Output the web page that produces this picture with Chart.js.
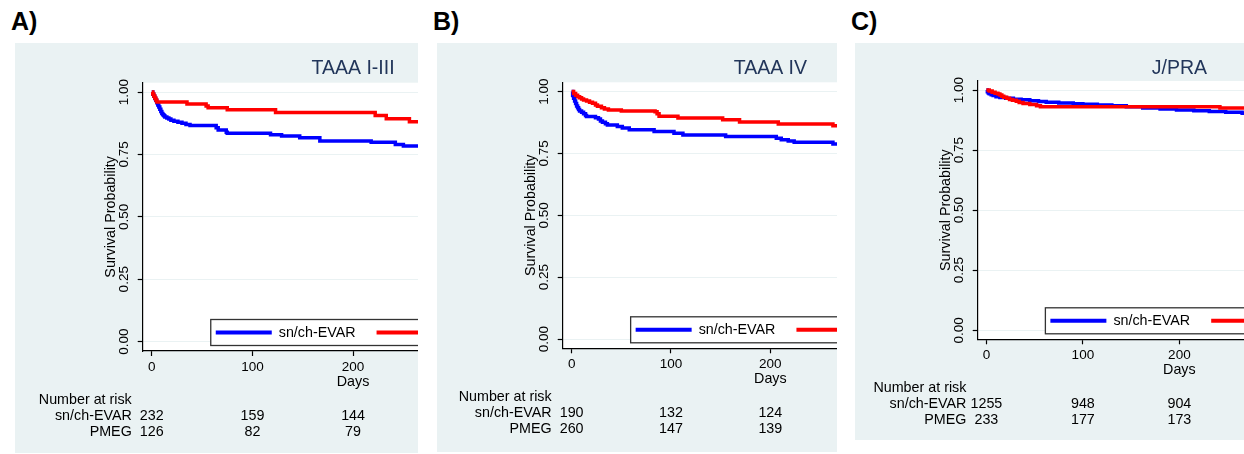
<!DOCTYPE html>
<html>
<head>
<meta charset="utf-8">
<script src="https://cdn.jsdelivr.net/npm/chart.js@4.4.1/dist/chart.umd.min.js"></script>
<style>
  body { margin: 0; background: #fff; width: 1244px; height: 454px; position: relative; overflow: hidden; }
  .tag { position: absolute; top: 9px; font: bold 25px "Liberation Sans", Arial, sans-serif; line-height: 25px; color: #000; }
  .panel { position: absolute; background: #eaf2f3; overflow: hidden; }
  .panel canvas { position: absolute; left: 0; top: 0; }
</style>
</head>
<body>
<div class="tag" style="left:11px">A)</div>
<div class="tag" style="left:433px">B)</div>
<div class="tag" style="left:851px">C)</div>
<div class="panel" style="left:15px;top:43px;width:403px;height:410px"><canvas id="cA"></canvas></div>
<div class="panel" style="left:437px;top:43px;width:400px;height:409px"><canvas id="cB"></canvas></div>
<div class="panel" style="left:855px;top:43px;width:389px;height:397px"><canvas id="cC"></canvas></div>
<script>
// shared labels / ticks
const groupLabels = ['sn/ch-EVAR', 'PMEG'];
const riskDays = [0, 100, 200];
const xTicks = [0, 100, 200, 300];
const yTicks = [0, 0.25, 0.5, 0.75, 1];

// A) TAAA I-III
const titleA = 'TAAA I-III';
const evarDaysA = [0, 1, 2, 3, 4, 5, 6, 7, 8, 9, 10, 11, 12, 13, 15, 17, 19, 22, 26, 30, 34, 38, 64, 66, 74, 75, 118, 129, 147, 167, 218, 242, 250, 280];
const evarSurvA = [1, 0.991, 0.983, 0.974, 0.966, 0.957, 0.948, 0.940, 0.931, 0.922, 0.914, 0.909, 0.905, 0.900, 0.896, 0.892, 0.887, 0.883, 0.879, 0.875, 0.870, 0.866, 0.857, 0.848, 0.839, 0.835, 0.829, 0.824, 0.817, 0.804, 0.799, 0.790, 0.784, 0.784];
const pmegDaysA = [0, 1, 2, 3, 4, 5, 35, 54, 56, 75, 123, 222, 233, 256, 280];
const pmegSurvA = [1, 0.992, 0.984, 0.976, 0.968, 0.960, 0.952, 0.944, 0.937, 0.929, 0.918, 0.906, 0.893, 0.881, 0.881];
const riskEvarA = [232, 159, 144];
const riskPmegA = [126, 82, 79];

// B) TAAA IV
const titleB = 'TAAA IV';
const evarDaysB = [0, 1, 2, 3, 4, 5, 6, 7, 8, 10, 12, 14, 15, 24, 27, 29, 31, 34, 36, 46, 51, 58, 83, 103, 112, 155, 206, 211, 218, 224, 263, 280];
const evarSurvB = [1, 0.984, 0.973, 0.962, 0.952, 0.942, 0.935, 0.928, 0.922, 0.916, 0.910, 0.903, 0.899, 0.894, 0.889, 0.881, 0.876, 0.870, 0.865, 0.859, 0.853, 0.846, 0.839, 0.832, 0.825, 0.818, 0.811, 0.805, 0.800, 0.795, 0.788, 0.788];
const pmegDaysB = [0, 2, 4, 6, 8, 10, 12, 15, 18, 21, 24, 26, 30, 33, 37, 50, 84, 86, 88, 107, 152, 169, 208, 263, 280];
const pmegSurvB = [1, 0.992, 0.985, 0.979, 0.975, 0.970, 0.966, 0.962, 0.957, 0.953, 0.946, 0.941, 0.935, 0.930, 0.926, 0.922, 0.918, 0.910, 0.900, 0.893, 0.886, 0.877, 0.869, 0.862, 0.862];
const riskEvarB = [190, 132, 124];
const riskPmegB = [260, 147, 139];

// C) J/PRA
const titleC = 'J/PRA';
const evarDaysC = [0, 1, 2, 3, 5, 7, 10, 14, 20, 28, 36, 45, 54, 62, 75, 90, 100, 115, 130, 145, 162, 180, 197, 215, 231, 248, 265, 280];
const evarSurvC = [1, 0.993, 0.988, 0.984, 0.980, 0.977, 0.972, 0.969, 0.966, 0.962, 0.959, 0.955, 0.952, 0.949, 0.946, 0.943, 0.941, 0.938, 0.934, 0.930, 0.925, 0.921, 0.917, 0.914, 0.911, 0.907, 0.903, 0.902];
const pmegDaysC = [0, 3, 6, 9, 12, 14, 16, 18, 21, 24, 27, 31, 34, 38, 45, 52, 56, 242, 280];
const pmegSurvC = [1, 0.996, 0.991, 0.987, 0.983, 0.979, 0.974, 0.970, 0.966, 0.961, 0.957, 0.953, 0.948, 0.944, 0.940, 0.935, 0.930, 0.925, 0.925];
const riskEvarC = [1255, 948, 904];
const riskPmegC = [233, 177, 173];

Chart.defaults.font.family = '"Liberation Sans", Arial, sans-serif';
Chart.defaults.color = '#000';

const km = (days, surv) => days.map((d, i) => ({ x: d, y: surv[i] }));

// plot area fill, legend box and number-at-risk table
const kmExtras = {
  id: 'kmExtras',
  beforeDraw(chart) {
    const { ctx, chartArea: a } = chart;
    ctx.save();
    ctx.fillStyle = '#fff';
    ctx.fillRect(a.left, a.top, a.right - a.left, a.bottom - a.top);
    ctx.restore();
  },
  afterDraw(chart, args, o) {
    const { ctx, chartArea: a, scales: { x } } = chart;
    const x0 = x.getPixelForValue(0);
    const ds = chart.data.datasets;
    ctx.save();
    ctx.font = '14.3px "Liberation Sans", Arial, sans-serif';
    ctx.textBaseline = 'middle';

    // legend
    const bh = 26, by = a.bottom - 5.5 - bh, bx = x0 + 59;
    let bw = 10;
    ds.forEach(d => { bw += 63 + ctx.measureText(d.label).width + 21; });
    ctx.fillStyle = '#fff';
    ctx.fillRect(bx, by, bw, bh);
    ctx.strokeStyle = '#333';
    ctx.lineWidth = 1.3;
    ctx.strokeRect(bx, by, bw, bh);
    let cx = bx + 5;
    const cy = by + bh / 2;
    ds.forEach(d => {
      ctx.strokeStyle = d.borderColor;
      ctx.lineWidth = 4;
      ctx.beginPath(); ctx.moveTo(cx, cy); ctx.lineTo(cx + 56, cy); ctx.stroke();
      ctx.fillStyle = '#000';
      ctx.textAlign = 'left';
      ctx.fillText(d.label, cx + 63, cy + 0.5);
      cx += 63 + ctx.measureText(d.label).width + 21;
    });

    // number at risk
    const lx = x0 - 20;
    ctx.fillStyle = '#000';
    ctx.textAlign = 'right';
    ctx.fillText('Number at risk', lx, a.bottom + 49);
    o.risk.forEach((counts, i) => {
      const yy = a.bottom + 65 + 16 * i;
      ctx.textAlign = 'right';
      ctx.fillText(ds[i].label, lx, yy);
      ctx.textAlign = 'center';
      counts.forEach((n, j) => ctx.fillText(String(n), x.getPixelForValue(riskDays[j]), yy));
    });
    ctx.restore();
  }
};

const panels = [
  { id: 'cA', title: titleA, evar: km(evarDaysA, evarSurvA), pmeg: km(pmegDaysA, pmegSurvA), risk: [riskEvarA, riskPmegA], h: 410, left: 127.7, top: 39.7, bottom: 308, ppd: 1.0065, tc: 26 },
  { id: 'cB', title: titleB, evar: km(evarDaysB, evarSurvB), pmeg: km(pmegDaysB, pmegSurvB), risk: [riskEvarB, riskPmegB], h: 409, left: 125.7, top: 39.3, bottom: 305.3, ppd: 0.9935, tc: 26 },
  { id: 'cC', title: titleC, evar: km(evarDaysC, evarSurvC), pmeg: km(pmegDaysC, pmegSurvC), risk: [riskEvarC, riskPmegC], h: 397, left: 122.7, top: 38, bottom: 296.3, ppd: 0.965, tc: 25.3 }
];

const xMin = -9, xMax = 409, yMin = -0.0375, yMax = 1.0375;
const yW = 40.1, xH = 39.6, titleLH = 19.5 * 1.2;

panels.forEach(p => {
  const cv = document.getElementById(p.id);
  const plotW = (xMax - xMin) * p.ppd;
  const W = Math.ceil(p.left + plotW + 20);
  cv.width = W; cv.height = p.h;
  cv.style.width = W + 'px'; cv.style.height = p.h + 'px';

  new Chart(cv, {
    type: 'line',
    data: {
      datasets: [
        { label: groupLabels[0], data: p.evar, borderColor: '#0000ff', borderWidth: 3.5, pointRadius: 0, stepped: 'before', fill: false, order: 1 },
        { label: groupLabels[1], data: p.pmeg, borderColor: '#ff0000', borderWidth: 3.5, pointRadius: 0, stepped: 'before', fill: false, order: 0 }
      ]
    },
    options: {
      responsive: false,
      animation: false,
      devicePixelRatio: 1,
      events: [],
      layout: { padding: { left: p.left - yW, right: W - p.left - plotW, top: 0, bottom: p.h - p.bottom - xH } },
      plugins: {
        legend: { display: false },
        tooltip: { enabled: false },
        title: {
          display: true, text: p.title, color: '#22365a', fullSize: false,
          font: { size: 19.5, weight: 'normal' },
          padding: { top: p.tc - titleLH / 2, bottom: p.top - p.tc - titleLH / 2 }
        },
        kmExtras: { risk: p.risk }
      },
      scales: {
        x: {
          type: 'linear', min: xMin, max: xMax,
          afterBuildTicks: s => { s.ticks = xTicks.map(v => ({ value: v })); },
          afterFit: s => { s.height = xH; },
          ticks: { autoSkip: false, maxRotation: 0, minRotation: 0, padding: 3, color: '#000', font: { size: 13.5 }, callback: v => String(v) },
          grid: { drawOnChartArea: false, tickLength: 5, tickColor: '#000', tickWidth: 1.2 },
          border: { color: '#000', width: 1.2 },
          title: { display: true, text: 'Days', color: '#000', font: { size: 14.3 }, padding: 0 }
        },
        y: {
          type: 'linear', min: yMin, max: yMax,
          afterBuildTicks: s => { s.ticks = yTicks.map(v => ({ value: v })); },
          afterFit: s => { s.width = yW; },
          ticks: { autoSkip: false, minRotation: 90, maxRotation: 90, crossAlign: 'center', padding: 0, color: '#000', font: { size: 13.5 }, callback: v => v.toFixed(2) },
          grid: { color: '#eaf2f3', lineWidth: 1, tickLength: 5, tickColor: '#000', tickWidth: 1.2 },
          border: { color: '#000', width: 1.2 },
          title: { display: true, text: 'Survival Probability', color: '#000', font: { size: 14.3 }, padding: 0 }
        }
      }
    },
    plugins: [kmExtras]
  });
});
</script>
</body>
</html>
